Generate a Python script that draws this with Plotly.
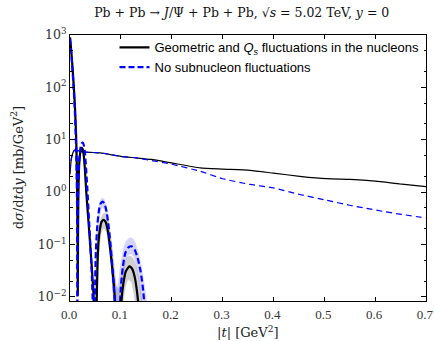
import plotly.graph_objects as go

# ---------------- data ----------------
# coherent, geometric + Qs fluctuations (black solid)
coh_fl_t = [0.000, 0.002, 0.004, 0.006, 0.008, 0.010, 0.012, 0.013, 0.014, 0.015, 0.0153,
            0.0158, 0.0165, 0.0175, 0.019, 0.021, 0.023, 0.025, 0.027, 0.029, 0.032, 0.036, 0.040, 0.043, 0.046, 0.048, 0.049,
            0.050, 0.052, 0.054, 0.056, 0.059, 0.062, 0.066, 0.070, 0.074, 0.078, 0.082, 0.086, 0.090, 0.093, 0.094,
            0.095, 0.098, 0.101, 0.105, 0.110, 0.117, 0.123, 0.128, 0.132, 0.135, 0.138, 0.140]
coh_fl_v = [900, 560, 320, 170, 85, 38, 12, 5.0, 1.3, 0.08, 0.011,
            0.15, 0.9, 2.5, 4.5, 6.3, 7.0, 6.6, 5.0, 3.0, 1.0, 0.3, 0.09, 0.035, 0.012, 0.002, 1e-4,
            1e-4, 0.004, 0.04, 0.11, 0.2, 0.27, 0.295, 0.27, 0.19, 0.1, 0.045, 0.018, 0.005, 0.0008, 1e-4,
            1e-4, 0.002, 0.008, 0.018, 0.031, 0.038, 0.033, 0.022, 0.012, 0.006, 0.0015, 1e-4]

# coherent, no subnucleon fluctuations (blue dashed)
coh_nf_t = [0.000, 0.002, 0.004, 0.006, 0.008, 0.010, 0.012, 0.013, 0.014, 0.0145,
            0.015, 0.016, 0.0175, 0.019, 0.021, 0.023, 0.025, 0.027, 0.029, 0.031, 0.034, 0.037, 0.040, 0.043, 0.045, 0.046,
            0.047, 0.049, 0.051, 0.054, 0.057, 0.060, 0.064, 0.068, 0.072, 0.076, 0.080, 0.084, 0.088, 0.091, 0.093,
            0.094, 0.097, 0.100, 0.104, 0.109, 0.115, 0.121, 0.127, 0.133, 0.139, 0.144, 0.148, 0.151, 0.153]
coh_nf_v = [850, 520, 290, 150, 70, 28, 7.0, 2.5, 0.4, 1e-4,
            0.2, 1.2, 3.2, 5.2, 7.3, 8.5, 8.8, 8.0, 6.0, 3.5, 1.2, 0.35, 0.1, 0.025, 0.006, 1e-4,
            1e-4, 0.01, 0.08, 0.25, 0.45, 0.6, 0.66, 0.6, 0.42, 0.22, 0.09, 0.03, 0.008, 0.0015, 1e-4,
            1e-4, 0.003, 0.015, 0.038, 0.07, 0.088, 0.092, 0.08, 0.055, 0.03, 0.013, 0.004, 0.0008, 1e-4]

# incoherent curves
inc_t = [0.000, 0.002, 0.004, 0.007, 0.010, 0.014, 0.020, 0.030, 0.045, 0.060, 0.080, 0.100, 0.130, 0.160,
         0.200, 0.256, 0.300, 0.354, 0.400, 0.452, 0.504, 0.550, 0.583, 0.620, 0.648, 0.700]
inc_fl_v = [2.2, 3.8, 5.0, 6.0, 6.4, 6.3, 6.0, 5.8, 5.7, 5.6, 5.2, 4.8, 4.5, 4.2,
            3.6, 2.9, 2.75, 2.6, 2.3, 2.0, 1.8, 1.75, 1.68, 1.55, 1.43, 1.27]
inc_nf_v = [2.5, 4.0, 5.1, 6.0, 6.3, 6.2, 6.0, 5.8, 5.7, 5.6, 5.2, 4.8, 4.5, 4.0,
            3.4, 2.5, 1.8, 1.4, 1.2, 0.9, 0.7, 0.56, 0.49, 0.42, 0.38, 0.32]

# uncertainty bands (coherent)
band_fl_t = [0.050, 0.053, 0.056, 0.060, 0.064, 0.068, 0.072, 0.076, 0.080, 0.084, 0.088, 0.092, 0.095,
             0.098, 0.102, 0.106, 0.110, 0.115, 0.120, 0.125, 0.130, 0.134, 0.138, 0.142, 0.146, 0.150]
band_fl_hi = [0.004, 0.06, 0.18, 0.3, 0.38, 0.4, 0.36, 0.27, 0.16, 0.08, 0.035, 0.016, 0.014,
              0.018, 0.03, 0.043, 0.053, 0.06, 0.06, 0.053, 0.04, 0.028, 0.016, 0.008, 0.003, 0.001]
band_fl_lo = [1e-4, 0.001, 0.03, 0.12, 0.19, 0.2, 0.16, 0.09, 0.04, 0.012, 0.002, 1e-4, 1e-4,
              1e-4, 0.002, 0.009, 0.016, 0.021, 0.019, 0.012, 0.005, 0.0015, 1e-4, 1e-4, 1e-4, 1e-4]

band_nf_t = [0.046, 0.049, 0.052, 0.056, 0.060, 0.064, 0.068, 0.072, 0.076, 0.080, 0.084, 0.088, 0.092,
             0.095, 0.098, 0.102, 0.106, 0.110, 0.115, 0.120, 0.125, 0.130, 0.135, 0.140, 0.145, 0.150, 0.155, 0.160]
band_nf_hi = [0.004, 0.04, 0.2, 0.5, 0.72, 0.78, 0.72, 0.52, 0.3, 0.14, 0.06, 0.025, 0.015,
              0.02, 0.035, 0.06, 0.09, 0.115, 0.13, 0.135, 0.125, 0.1, 0.07, 0.042, 0.022, 0.01, 0.004, 0.001]
band_nf_lo = [1e-4, 1e-4, 0.03, 0.15, 0.4, 0.5, 0.45, 0.3, 0.14, 0.05, 0.012, 0.002, 1e-4,
              1e-4, 1e-4, 0.006, 0.025, 0.048, 0.062, 0.066, 0.058, 0.038, 0.02, 0.008, 0.002, 1e-4, 1e-4, 1e-4]

x_ticks = [0.0, 0.1, 0.2, 0.3, 0.4, 0.5, 0.6, 0.7]
x_ticklabels = ["0.0", "0.1", "0.2", "0.3", "0.4", "0.5", "0.6", "0.7"]
y_ticks = [1e-2, 1e-1, 1e0, 1e1, 1e2, 1e3]
y_ticklabels = ["10<sup>−2</sup>", "10<sup>−1</sup>", "10<sup>0</sup>", "10<sup>1</sup>", "10<sup>2</sup>", "10<sup>3</sup>"]

legend_labels = ["Geometric and <i>Q<sub>s</sub></i> fluctuations in the nucleons",
                 "No subnucleon fluctuations"]

# ---------------- figure ----------------
fig = go.Figure()

GRAY_FILL = "rgba(120,120,120,0.35)"
BLUE_FILL = "rgba(60,60,255,0.22)"

def add_band(t, lo, hi, fill):
    fig.add_trace(go.Scatter(x=t, y=lo, mode="lines", line=dict(width=0, shape="spline", smoothing=0.6),
                             showlegend=False, hoverinfo="skip"))
    fig.add_trace(go.Scatter(x=t, y=hi, mode="lines", line=dict(width=0, shape="spline", smoothing=0.6),
                             fill="tonexty", fillcolor=fill, showlegend=False, hoverinfo="skip"))

add_band(band_nf_t, band_nf_lo, band_nf_hi, BLUE_FILL)
add_band(band_fl_t, band_fl_lo, band_fl_hi, GRAY_FILL)

fig.add_trace(go.Scatter(x=inc_t, y=inc_fl_v, mode="lines",
                         line=dict(color="black", width=1.2, shape="spline", smoothing=0.5),
                         showlegend=False))
fig.add_trace(go.Scatter(x=inc_t, y=inc_nf_v, mode="lines",
                         line=dict(color="blue", width=1.2, dash="6px,4px", shape="spline", smoothing=0.5),
                         showlegend=False))
fig.add_trace(go.Scatter(x=coh_fl_t, y=coh_fl_v, mode="lines", name=legend_labels[0],
                         line=dict(color="black", width=2.2, shape="spline", smoothing=0.6)))
fig.add_trace(go.Scatter(x=coh_nf_t, y=coh_nf_v, mode="lines", name=legend_labels[1],
                         line=dict(color="blue", width=2.2, dash="6px,3px", shape="spline", smoothing=0.6)))

SERIF = "DejaVu Serif, Liberation Serif, serif"
TIMES = "Liberation Serif, DejaVu Serif, serif"

fig.update_layout(
    width=434, height=341,
    margin=dict(l=70, r=8, t=35, b=40, autoexpand=False),
    paper_bgcolor="white", plot_bgcolor="white",
    title=dict(text="Pb + Pb → <i>J</i>/Ψ + Pb + Pb, √<i>s</i> = 5.02 TeV, <i>y</i> = 0",
               x=0.557, xanchor="center", y=0.962, yanchor="middle",
               font=dict(family=SERIF, size=12.5, color="#111")),
    legend=dict(x=0.125, y=1.01, xanchor="left", yanchor="top", traceorder="normal",
                bgcolor="rgba(0,0,0,0)", borderwidth=0,
                font=dict(family="Liberation Sans, Arial, sans-serif", size=13, color="black"),
                tracegroupgap=0, itemwidth=30),
    showlegend=True,
    annotations=[
        dict(text="|<i>t</i>| [GeV<sup>2</sup>]", xref="paper", yref="paper",
             x=0.5, y=-0.117, xanchor="center", yanchor="middle", showarrow=False,
             font=dict(family=SERIF, size=13, color="#222")),
        dict(text="d<i>σ</i>/d<i>t</i>d<i>y</i> [mb/GeV<sup>2</sup>]", xref="paper", yref="paper",
             x=-0.148, y=0.5, xanchor="center", yanchor="middle", textangle=-90, showarrow=False,
             font=dict(family=SERIF, size=13, color="#222")),
    ],
)

fig.update_xaxes(range=[0, 0.7001], tickvals=x_ticks, ticktext=x_ticklabels,
                 ticks="inside", ticklen=4, tickcolor="black", mirror="ticks",
                 showline=True, linecolor="black", linewidth=1, showgrid=False, zeroline=False,
                 tickfont=dict(family=TIMES, size=13, color="#333"), ticklabelstandoff=1,
                 ticklabelshift=-1, ticklabeloverflow="allow", automargin=False)
fig.update_yaxes(type="log", range=[-2.08, 3], tickvals=y_ticks, ticktext=y_ticklabels,
                 ticks="inside", ticklen=5, tickcolor="black", mirror="ticks",
                 showline=True, linecolor="black", linewidth=1, showgrid=False, zeroline=False,
                 minor=dict(ticks="inside", ticklen=2.5, tickcolor="black", showgrid=False),
                 tickfont=dict(family=SERIF, size=12.5, color="#333"), automargin=False)

fig.write_html("out.html", config={"displayModeBar": False},
               post_script="document.body.style.margin='0px';")
